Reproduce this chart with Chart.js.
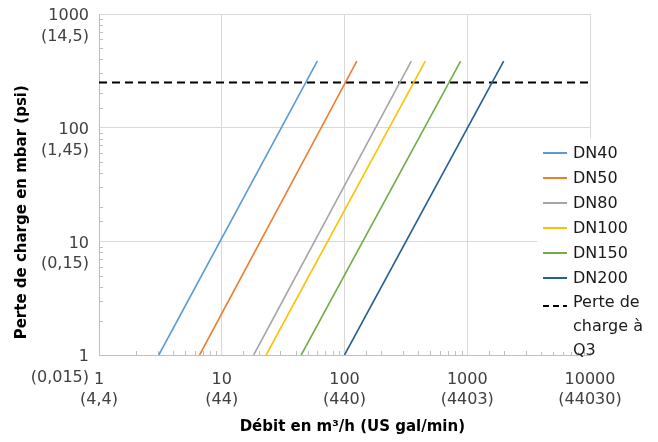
<!DOCTYPE html>
<html>
<head>
<meta charset="utf-8">
<script src="https://cdn.jsdelivr.net/npm/chart.js@4.4.1/dist/chart.umd.min.js"></script>
<style>
  html, body { margin: 0; padding: 0; background: #fff; }
  #wrap { position: relative; width: 658px; height: 442px; }
  #legend {
    position: absolute; left: 537px; top: 138px; width: 121px; height: 214px;
    background: #fff; font-family: "DejaVu Sans"; font-size: 16px; color: #1a1a1a;
    padding-top: 2px; box-sizing: border-box;
  }
  .row { display: flex; align-items: flex-start; height: 25px; line-height: 25px; padding-left: 6px; }
  .sw { width: 24px; height: 2px; margin-top: 12px; margin-right: 6px; flex: none; }
  .row.multi { line-height: 24px; height: auto; }
</style>
</head>
<body>
<div id="wrap">
  <canvas id="chart" width="658" height="442"></canvas>
  <div id="legend"></div>
</div>
<script>
// flow (m3/h) where each curve starts (1 mbar) and ends (top of curve)
const seriesNames = ['DN40', 'DN50', 'DN80', 'DN100', 'DN150', 'DN200'];
const seriesColors = ['#5b9bd5', '#ed7d31', '#a5a5a5', '#ffc000', '#70ad47', '#255e91'];
const flowStart = [3.07, 6.6, 18.2, 23.0, 44.4, 100];
const flowEnd = [60, 126, 350, 455, 883, 1980];
const lossRange = [1, 385];

// pressure loss at Q3
const q3Label = 'Perte de charge à Q3';
const q3Loss = 250;

// tick labels
const xTickValues = [1, 10, 100, 1000, 10000];
const xTickGal = ['(4,4)', '(44)', '(440)', '(4403)', '(44030)'];
const yTickValues = [1, 10, 100, 1000];
const yTickPsi = ['(0,015)', '(0,15)', '(1,45)', '(14,5)'];

const isDecade = v => Math.abs(Math.log10(v) - Math.round(Math.log10(v))) < 1e-6;

const datasets = seriesNames.map((name, i) => ({
  label: name,
  data: [{ x: flowStart[i], y: lossRange[0] }, { x: flowEnd[i], y: lossRange[1] }],
  borderColor: seriesColors[i],
  borderWidth: 1.6,
  pointRadius: 0,
  fill: false,
}));
datasets.push({
  label: q3Label,
  data: [{ x: xTickValues[0], y: q3Loss }, { x: xTickValues[xTickValues.length - 1], y: q3Loss }],
  borderColor: '#000',
  borderWidth: 2,
  borderDash: [8, 5],
  pointRadius: 0,
  fill: false,
});

// small minor ticks drawn inside the plot area
const innerTicks = {
  id: 'innerTicks',
  beforeDatasetsDraw(chart) {
    const { ctx, chartArea, scales } = chart;
    ctx.save();
    ctx.strokeStyle = '#bfbfbf';
    ctx.lineWidth = 1;
    ctx.beginPath();
    scales.x.ticks.forEach(t => {
      if (isDecade(t.value)) return;
      const px = Math.round(scales.x.getPixelForValue(t.value)) + 0.5;
      ctx.moveTo(px, chartArea.bottom);
      ctx.lineTo(px, chartArea.bottom - 4);
    });
    scales.y.ticks.forEach(t => {
      if (isDecade(t.value)) return;
      const py = Math.round(scales.y.getPixelForValue(t.value)) + 0.5;
      ctx.moveTo(chartArea.left, py);
      ctx.lineTo(chartArea.left + 4, py);
    });
    ctx.stroke();
    ctx.restore();
  }
};

const tickFont = { family: 'DejaVu Sans', size: 16, lineHeight: 1.3 };
const titleFont = { family: 'DejaVu Sans', size: 15, weight: 'bold', lineHeight: 1.2 };

const chart = new Chart(document.getElementById('chart'), {
  type: 'line',
  data: { datasets },
  plugins: [innerTicks],
  options: {
    responsive: false,
    animation: false,
    layout: { padding: { top: 14, right: 68, left: 0, bottom: 0 } },
    plugins: { legend: { display: false }, tooltip: { enabled: false } },
    scales: {
      x: {
        type: 'logarithmic',
        min: 1,
        max: 10000,
        afterFit: s => { s.height = 87; s.paddingLeft = 0; s.paddingRight = 0; },
        grid: {
          drawTicks: false,
          color: c => (c.tick && isDecade(c.tick.value) ? '#d9d9d9' : 'rgba(0,0,0,0)'),
        },
        border: { color: '#bfbfbf' },
        ticks: {
          autoSkip: false,
          maxRotation: 0,
          padding: 14,
          color: '#404040',
          font: tickFont,
          callback: v => {
            const i = xTickValues.indexOf(v);
            return i < 0 ? '' : [String(v), xTickGal[i]];
          },
        },
        title: {
          display: true,
          text: '   Débit en m³/h (US gal/min)',
          color: '#000',
          font: titleFont,
          padding: { top: 0, bottom: 6 },
        },
      },
      y: {
        type: 'logarithmic',
        min: 1,
        max: 1000,
        afterFit: s => { s.width = 99; s.paddingTop = 0; s.paddingBottom = 0; },
        grid: {
          drawTicks: false,
          color: c => (c.tick && isDecade(c.tick.value) ? '#d9d9d9' : 'rgba(0,0,0,0)'),
        },
        border: { color: '#bfbfbf' },
        ticks: {
          autoSkip: false,
          padding: 10,
          labelOffset: 12.5,
          color: '#404040',
          font: tickFont,
          callback: v => {
            const i = yTickValues.indexOf(v);
            return i < 0 ? '' : [String(v), yTickPsi[i]];
          },
        },
        title: {
          display: true,
          align: 'start',
          text: '   Perte de charge en mbar (psi)',
          color: '#000',
          font: titleFont,
          padding: { top: 13, bottom: 0 },
        },
      },
    },
  },
});

// legend built from the chart datasets
const legend = document.getElementById('legend');
chart.data.datasets.forEach(ds => {
  const row = document.createElement('div');
  row.className = 'row';
  const sw = document.createElement('div');
  sw.className = 'sw';
  if (ds.borderDash) {
    sw.style.background = `repeating-linear-gradient(to right, ${ds.borderColor} 0 6px, transparent 6px 10px)`;
    sw.style.marginTop = '15px';
    row.classList.add('multi');
  } else {
    sw.style.background = ds.borderColor;
  }
  const txt = document.createElement('div');
  if (ds.borderDash) {
    txt.innerHTML = 'Perte de<br>charge à<br>Q3';
  } else {
    txt.textContent = ds.label;
  }
  row.appendChild(sw);
  row.appendChild(txt);
  legend.appendChild(row);
});
</script>
</body>
</html>
